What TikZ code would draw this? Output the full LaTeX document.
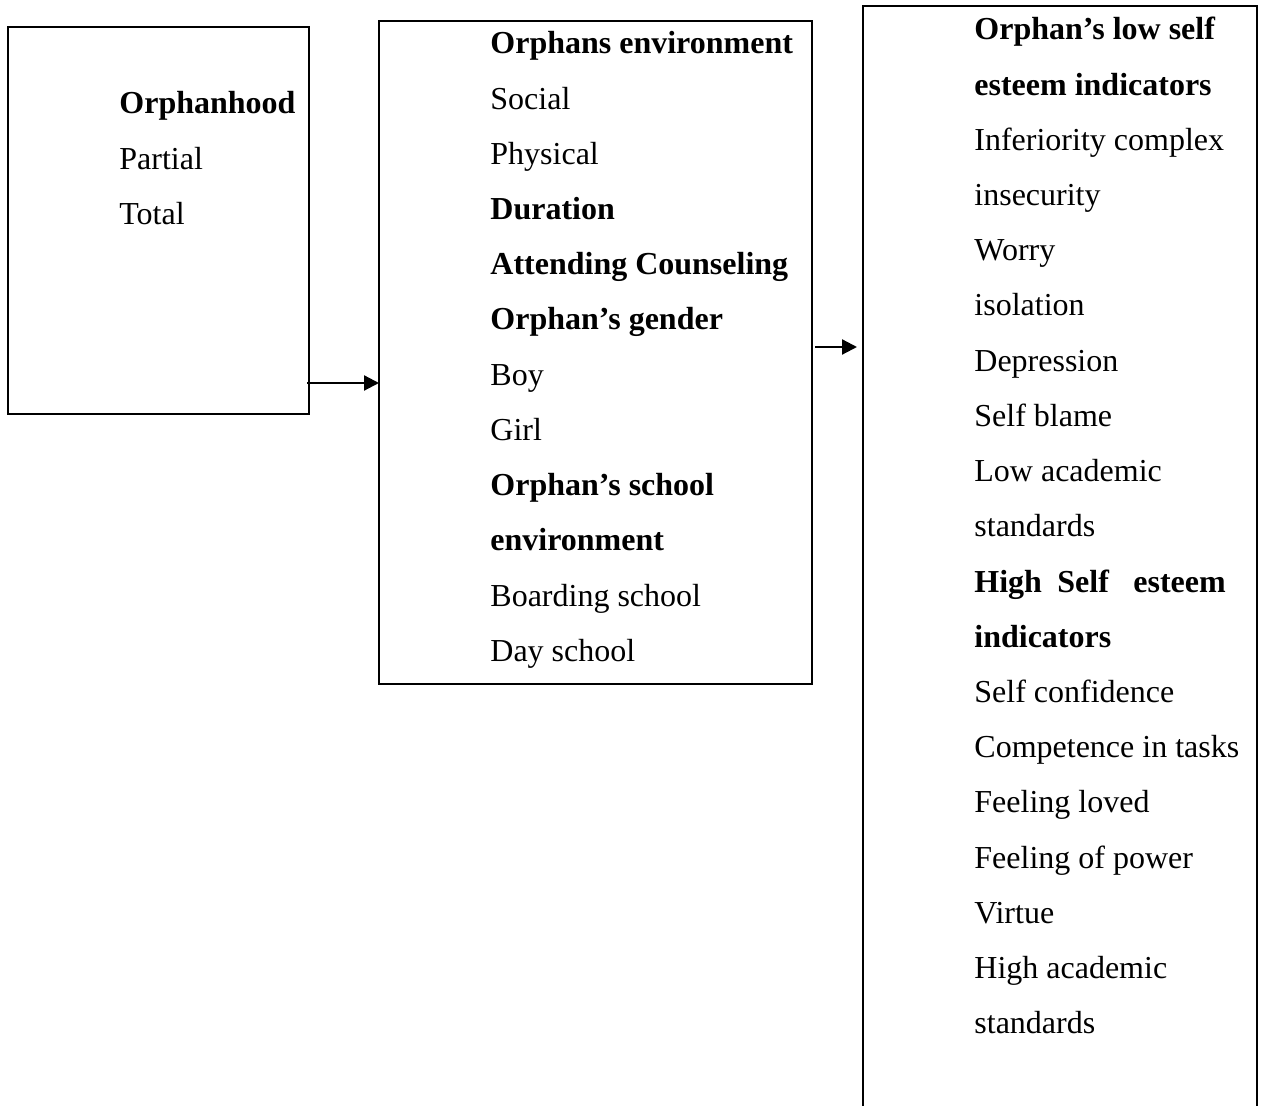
\documentclass[tikz,border=0pt]{standalone}
\usepackage{fontspec}
\setmainfont{Liberation Serif}
\usetikzlibrary{arrows.meta}
\begin{document}
\begin{tikzpicture}[x=0.5pt,y=-0.5pt,
  box/.style={draw,line width=1.2pt,inner sep=0pt,outer sep=0pt,anchor=north west},
  lbl/.style={inner sep=0pt,anchor=base west,font=\fontsize{16pt}{18pt}\selectfont},
  hd/.style={lbl,font=\fontsize{16pt}{18pt}\selectfont\bfseries},
  arr/.style={line width=1.1pt,-{Triangle[length=7.5pt,width=7.5pt]}}]
\useasboundingbox (0,0) rectangle (1263,1106);
\clip (0,0) rectangle (1263,1106);
\fill[white] (0,0) rectangle (1263,1106);
% boxes
\node[box,minimum width=150.5pt,minimum height=193.5pt] (b1) at (8,27) {};
\node[box,minimum width=216.5pt,minimum height=331.5pt] (b2) at (379,21) {};
\node[box,minimum width=197pt,minimum height=560pt] (b3) at (863,6) {};
% box 1 text
\node[hd]  (t1a) at (119,114)   {Orphanhood};
\node[lbl] (t1b) at (119,169.2) {Partial};
\node[lbl] (t1c) at (119,224.4) {Total};
% box 2 text
\node[hd]  (t2a) at (490,54)    {Orphans environment};
\node[lbl] (t2b) at (490,109.2) {Social};
\node[lbl] (t2c) at (490,164.4) {Physical};
\node[hd]  (t2d) at (490,219.6) {Duration};
\node[hd]  (t2e) at (490,274.8) {Attending Counseling};
\node[hd]  (t2f) at (490,330)   {Orphan’s gender};
\node[lbl] (t2g) at (490,385.2) {Boy};
\node[lbl] (t2h) at (490,440.4) {Girl};
\node[hd]  (t2i) at (490,495.6) {Orphan’s school};
\node[hd]  (t2j) at (490,550.8) {environment};
\node[lbl] (t2k) at (490,606)   {Boarding school};
\node[lbl] (t2l) at (490,661.2) {Day school};
% box 3 text
\node[hd]  (t3a) at (974,40)    {Orphan’s low self};
\node[hd]  (t3b) at (974,95.2)  {esteem indicators};
\node[lbl] (t3c) at (974,150.4) {Inferiority complex};
\node[lbl] (t3d) at (974,205.6) {insecurity};
\node[lbl] (t3e) at (974,260.8) {Worry};
\node[lbl] (t3f) at (974,316)   {isolation};
\node[lbl] (t3g) at (974,371.2) {Depression};
\node[lbl] (t3h) at (974,426.4) {Self blame};
\node[lbl] (t3i) at (974,481.6) {Low academic};
\node[lbl] (t3j) at (974,536.8) {standards};
\node[hd]  (t3k1) at (974,592)  {High};
\node[hd]  (t3k2) at (1057,592) {Self};
\node[hd]  (t3k3) at (1133,592) {esteem};
\node[hd]  (t3l) at (974,647.2) {indicators};
\node[lbl] (t3m) at (974,702.4) {Self confidence};
\node[lbl] (t3n) at (974,757.6) {Competence in tasks};
\node[lbl] (t3o) at (974,812.8) {Feeling loved};
\node[lbl] (t3p) at (974,868)   {Feeling of power};
\node[lbl] (t3q) at (974,923.2) {Virtue};
\node[lbl] (t3r) at (974,978.4) {High academic};
\node[lbl] (t3s) at (974,1033.6) {standards};
% arrows
\coordinate (a1s) at (307,383);
\draw[arr] (a1s) -- (a1s -| b2.west);
\coordinate (a2s) at (815,347);
\coordinate (a2e) at (857,347);
\draw[arr] (a2s) -- (a2e);
\end{tikzpicture}
\end{document}
